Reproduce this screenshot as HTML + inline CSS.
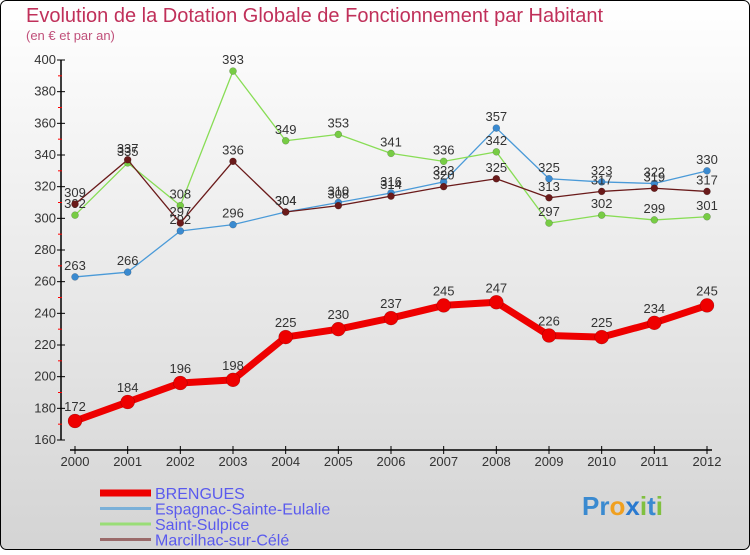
<!DOCTYPE html>
<html><head><meta charset="utf-8"><style>
body{margin:0;width:750px;height:550px;overflow:hidden;font-family:"Liberation Sans",sans-serif}
svg text{font-family:"Liberation Sans",sans-serif}
</style></head><body>
<svg id="chart" width="750" height="550" xmlns="http://www.w3.org/2000/svg">
<defs><linearGradient id="bg" x1="0" y1="0" x2="0" y2="1"><stop offset="0" stop-color="#ffffff"/><stop offset="1" stop-color="#d4d4d4"/></linearGradient></defs>
<rect x="0.5" y="0.5" width="749" height="549" rx="6" fill="url(#bg)" stroke="#000"/>
<text x="26" y="22" font-size="20" fill="#c0305a">Evolution de la Dotation Globale de Fonctionnement par Habitant</text>
<text x="26" y="40" font-size="13" fill="#c0507a">(en € et par an)</text>
<g id="axes"></g><g id="series"></g><g id="legend"></g>
</svg>
<script>
const years=[2000,2001,2002,2003,2004,2005,2006,2007,2008,2009,2010,2011,2012];
const yTicks=[160,180,200,220,240,260,280,300,320,340,360,380,400];
const brengues=[172,184,196,198,225,230,237,245,247,226,225,234,245];
const espagnac=[263,266,292,296,304,310,316,323,357,325,323,322,330];
const sulpice=[302,335,308,393,349,353,341,336,342,297,302,299,301];
const marcilhac=[309,337,297,336,304,308,314,320,325,313,317,319,317];
const names=["BRENGUES","Espagnac-Sainte-Eulalie","Saint-Sulpice","Marcilhac-sur-Célé"];
const NS="http://www.w3.org/2000/svg";
function X(i){return 75+i*(707-75)/(years.length-1);}
function Y(v){return 440-(v-160)*(380/240);}
function mk(t,a,p){const e=document.createElementNS(NS,t);for(const k in a)e.setAttribute(k,a[k]);p.appendChild(e);return e;}
const ax=document.getElementById('axes');
let l=mk('line',{x1:61,y1:Y(400),x2:61,y2:Y(160),stroke:'#000','stroke-width':1.5},ax);


yTicks.forEach((v,i)=>{
 mk('line',{x1:57,y1:Y(v),x2:65,y2:Y(v),stroke:'#000'},ax);
 if(i<yTicks.length-1) mk('line',{x1:58,y1:Y(v+10),x2:62,y2:Y(v+10),stroke:'#f00'},ax);
 const t=mk('text',{x:56,y:Y(v)+4,'font-size':13,'text-anchor':'end',fill:'#333'},ax);t.textContent=v;
 
 
});
l=mk('line',{x1:70,y1:450,x2:712,y2:450,stroke:'#000','stroke-width':1.5},ax);


years.forEach((y,i)=>{
 mk('line',{x1:X(i),y1:446,x2:X(i),y2:454,stroke:'#000'},ax);
 const t=mk('text',{x:X(i),y:466,'font-size':13,'text-anchor':'middle',fill:'#333'},ax);t.textContent=y;
 
 
});
const sg=document.getElementById('series');
const defs=[[espagnac,'#4a9ad8','#3a8ad0',1.3,3.5,'espagnac'],[sulpice,'#88dd55','#77cc44',1.3,3.5,'saint-sulpice'],[marcilhac,'#6a1a1a','#6a1a1a',1.3,3.5,'marcilhac'],[brengues,'#ee0000','#ee0000',7,7,'brengues']];
defs.forEach(([d,c,cf,w,r,n])=>{
 const g=mk('g',{},sg);
 
 
 const p=mk('polyline',{points:d.map((v,i)=>X(i)+','+Y(v)).join(' '),fill:'none',stroke:c,'stroke-width':w,'stroke-linejoin':'round'},g);
 
 
 d.forEach((v,i)=>{
  const cc=mk('circle',{cx:X(i),cy:Y(v),r:r,fill:cf,stroke:'rgba(0,0,0,0.3)','stroke-width':0.5},g);
  
  
  const t=mk('text',{x:X(i),y:Y(v)-(n==='brengues'?10:7),'font-size':13,'text-anchor':'middle',fill:'#333'},g);t.textContent=v;
  
  
 });
});
const lg=document.getElementById('legend');
const lc=['#ee0000','#7ab0d8','#99dd77','#9a6a6a'],lw=[7,3,3,3];
names.forEach((n,i)=>{
 const y=493+i*15.5;
 const s=mk('line',{x1:100,y1:y,x2:151,y2:y,stroke:lc[i],'stroke-width':lw[i]},lg);
 
 
 const t=mk('text',{x:155,y:y+6,'font-size':16,fill:'#5a5aee'},lg);t.textContent=n;
 
 
});
const lo=mk('text',{x:582,y:515,'font-size':26,'font-weight':'bold',fill:'#3a8ad0'},lg);
lo.innerHTML='Pr<tspan fill="#f0a020">o</tspan><tspan fill="#2a7ad0">x</tspan><tspan fill="#80c040">i</tspan>t<tspan fill="#80c040">i</tspan>';


</script>
</body></html>
